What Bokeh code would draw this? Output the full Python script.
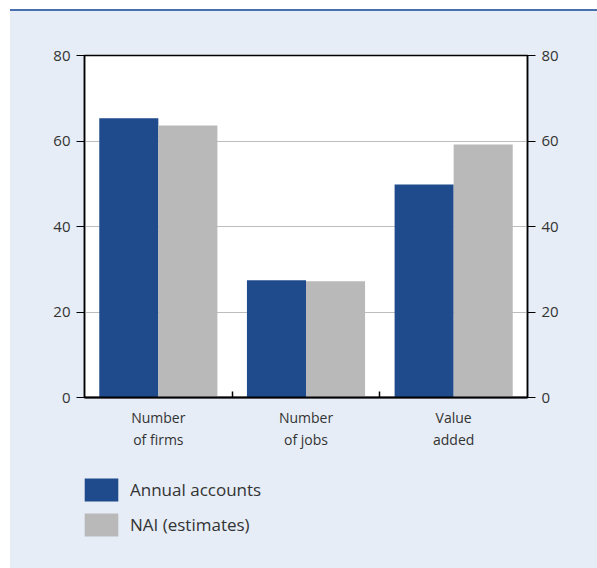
from bokeh.plotting import figure
from bokeh.models import (Range1d, LinearAxis, FixedTicker, ColumnDataSource,
                          Legend, LegendItem, Div)
from bokeh.transform import dodge
from bokeh.layouts import column
from bokeh.embed import file_html
from bokeh.resources import INLINE

# Shares (%) by indicator
categories = ["Number\nof firms", "Number\nof jobs", "Value\nadded"]
annual_accounts = [65.3, 27.4, 49.8]
nai_estimates = [63.6, 27.2, 59.2]
series_names = ["Annual accounts", "NAI (estimates)"]
y_ticks = [0, 20, 40, 60, 80]

PANEL = "#e6edf6"
BLUE = "#1f4a8b"
GREY = "#b9b9b9"
FONT = "Open Sans"

pos = list(range(len(categories)))
src = ColumnDataSource(dict(x=pos, a=annual_accounts, n=nai_estimates))

p = figure(width=587, height=449, output_backend="svg", toolbar_location=None,
           x_range=Range1d(-0.5, len(categories) - 0.5), y_range=Range1d(0, 80),
           min_border_left=74, min_border_right=70, min_border_top=44,
           min_border_bottom=63, margin=0)
p.background_fill_color = "white"
p.border_fill_color = None
p.outline_line_color = "black"
p.outline_line_width = 1.5

p.vbar(x=dodge("x", -0.2, range=p.x_range), top="a", width=0.4, source=src,
       fill_color=BLUE, line_color=None)
p.vbar(x=dodge("x", 0.2, range=p.x_range), top="n", width=0.4, source=src,
       fill_color=GREY, line_color=None)

# x axis: labels under each group, short inward ticks between groups
xa = p.xaxis[0]
xa.ticker = FixedTicker(ticks=pos, minor_ticks=[i + 0.5 for i in pos[:-1]])
xa.major_label_overrides = {i: c for i, c in zip(pos, categories)}
xa.major_tick_in = 0
xa.major_tick_out = 0
xa.minor_tick_in = 6
xa.minor_tick_out = 0
xa.minor_tick_line_color = "black"
xa.minor_tick_line_width = 1.5
xa.axis_line_width = 2
xa.axis_line_color = "black"
xa.major_label_standoff = 10
xa.major_label_text_font = FONT
xa.major_label_text_font_size = "14px"
xa.major_label_text_color = "#333333"

p.add_layout(LinearAxis(), "right")
for ax in p.yaxis:
    ax.ticker = FixedTicker(ticks=y_ticks)
    ax.major_tick_in = 0
    ax.major_tick_out = 8
    ax.minor_tick_line_color = None
    ax.axis_line_width = 1.5
    ax.axis_line_color = "black"
    ax.major_tick_line_color = "black"
    ax.major_label_standoff = 6
    ax.major_label_text_font = FONT
    ax.major_label_text_font_size = "15px"
    ax.major_label_text_color = "#333333"

p.xgrid.grid_line_color = None
p.ygrid.ticker = FixedTicker(ticks=y_ticks)
p.ygrid.grid_line_color = "#bdbdbd"
p.ygrid.grid_line_width = 1

# key panel under the chart (its frame lines up with the chart frame)
k = figure(width=587, height=108, output_backend="svg", toolbar_location=None,
           min_border=0, margin=0, x_axis_location=None,
           y_axis_location=None, x_range=Range1d(0, 1), y_range=Range1d(0, 1))
k.background_fill_color = None
k.border_fill_color = None
k.outline_line_color = None
k.grid.grid_line_color = None
# zero-height bars: only their legend swatches show
swatch_src = ColumnDataSource(dict(x=[0.5], top=[0]))
swatches = [k.vbar(x="x", top="top", bottom=0, width=0.1, source=swatch_src,
                   fill_color=c, line_color=None) for c in (BLUE, GREY)]
legend = Legend(items=[LegendItem(label=n, renderers=[r])
                       for n, r in zip(series_names, swatches)],
                location=(-4, 29), orientation="vertical",
                glyph_width=42, glyph_height=29, spacing=6, padding=0,
                margin=0, label_standoff=8, label_text_font=FONT,
                label_text_font_size="17px", label_text_color="#333333",
                border_line_color=None, background_fill_alpha=0)
k.add_layout(legend, "center")

rule = Div(width=587, height=2, margin=(9, 0, 0, 10),
           styles={"background-color": "#4a6fae"})

body = column(p, k, spacing=0, margin=(0, 0, 0, 10),
              styles={"background-color": PANEL})

layout = column(rule, body, spacing=0)

open("out.html", "w").write(file_html(layout, INLINE))
